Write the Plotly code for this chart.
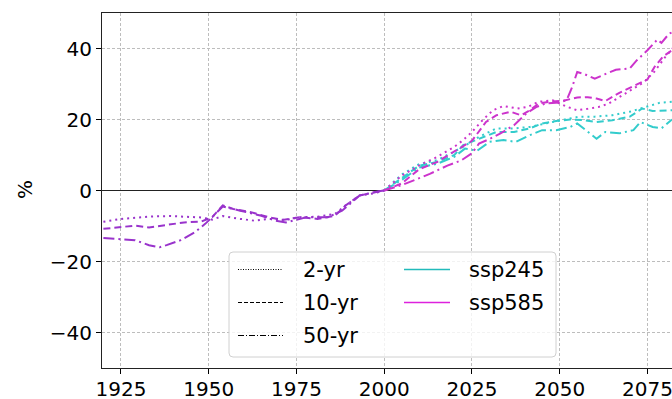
import plotly.graph_objects as go

# Historical - percent change relative to 2000
hist_2yr_x = [1920, 1925, 1930, 1934, 1939, 1944, 1948, 1951, 1954, 1959, 1963, 1967, 1972, 1976, 1981, 1986, 1989, 1993, 1997, 2000]
hist_2yr_y = [-8.8, -8.0, -7.6, -7.3, -7.2, -7.4, -7.6, -8.2, -7.2, -8.0, -8.5, -8.0, -8.3, -7.5, -7.4, -6.6, -4.2, -1.4, -0.8, 0.0]

hist_10yr_x = [1920, 1925, 1929, 1933, 1938, 1943, 1948, 1951, 1954, 1957, 1962, 1967, 1971, 1976, 1981, 1986, 1989, 1993, 1997, 2000]
hist_10yr_y = [-10.8, -10.2, -9.9, -10.4, -9.6, -9.0, -8.7, -7.5, -4.2, -5.2, -6.1, -7.5, -8.3, -7.5, -8.0, -7.1, -4.2, -1.4, -0.6, 0.0]

hist_50yr_x = [1920, 1925, 1929, 1933, 1936, 1938, 1942, 1946, 1949, 1951, 1954, 1959, 1965, 1969, 1972, 1978, 1984, 1988, 1993, 1997, 2000]
hist_50yr_y = [-13.4, -13.7, -14.0, -15.4, -16.0, -15.4, -14.0, -11.8, -9.4, -7.5, -4.5, -5.7, -7.1, -8.5, -9.0, -7.5, -7.5, -5.7, -1.4, -0.5, 0.0]

# ssp245 projections
ssp245_2yr_x = [2000, 2005, 2010, 2015, 2020, 2022.5, 2027, 2032, 2037, 2041.5, 2046, 2051, 2055.5, 2060, 2065, 2070, 2074.5, 2078.5, 2082]
ssp245_2yr_y = [0.0, 4.5, 7.5, 8.5, 11.0, 12.3, 15.1, 17.5, 17.5, 17.9, 18.9, 20.0, 20.8, 20.8, 21.2, 22.2, 23.6, 24.7, 25.0]

ssp245_10yr_x = [2000, 2005, 2010, 2015, 2020, 2022.5, 2027, 2032, 2037, 2041.5, 2045, 2049, 2053, 2057, 2060.5, 2065, 2070, 2073.5, 2076.5, 2080, 2082]
ssp245_10yr_y = [0.0, 3.5, 7.0, 8.0, 10.0, 12.8, 14.6, 16.5, 16.5, 17.5, 18.9, 19.6, 20.0, 19.8, 19.3, 19.8, 20.8, 23.1, 22.4, 22.6, 22.6]

ssp245_50yr_x = [2000, 2005, 2010, 2015, 2020, 2023, 2026.5, 2030, 2034, 2037.5, 2041.5, 2045, 2049, 2053, 2055, 2057.5, 2060.5, 2063, 2067, 2071, 2073, 2076.5, 2079, 2082]
ssp245_50yr_y = [0.0, 3.0, 6.5, 7.5, 9.5, 11.8, 11.2, 13.7, 14.2, 13.7, 15.6, 17.0, 17.0, 17.9, 18.9, 17.0, 14.6, 16.5, 16.1, 17.0, 19.3, 17.9, 17.5, 20.0]

# ssp585 projections
ssp585_2yr_x = [2000, 2005, 2010, 2015, 2020, 2022.5, 2025, 2028, 2031, 2034, 2038, 2041, 2044, 2048, 2052, 2055, 2058, 2061, 2064, 2068, 2071, 2074, 2077, 2080, 2083]
ssp585_2yr_y = [0.0, 4.2, 7.1, 9.4, 12.3, 14.2, 16.5, 19.8, 22.6, 23.8, 23.1, 23.6, 25.0, 25.4, 23.6, 22.6, 23.0, 23.5, 24.5, 26.9, 28.5, 30.5, 33.5, 37.5, 41.0]

ssp585_10yr_x = [2000, 2005, 2010, 2015, 2020, 2025, 2029, 2032, 2036, 2039, 2041.5, 2044, 2047, 2051, 2055, 2058, 2060.5, 2063, 2067, 2070, 2073, 2075, 2077, 2079.5, 2082]
ssp585_10yr_y = [0.0, 2.0, 6.0, 8.0, 11.0, 14.0, 19.3, 21.2, 22.2, 21.2, 22.6, 24.5, 25.0, 25.3, 26.2, 26.3, 25.9, 25.2, 27.5, 29.0, 30.5, 31.3, 34.8, 37.8, 39.5]

ssp585_50yr_x = [2000, 2005, 2010, 2013, 2018, 2022, 2025, 2027, 2030, 2033, 2037, 2040.5, 2043.5, 2046, 2050, 2052, 2053.5, 2055, 2057, 2060, 2063, 2066, 2070, 2072, 2075, 2077.8, 2079, 2081.2, 2083]
ssp585_50yr_y = [0.0, 1.5, 3.5, 4.7, 7.0, 8.5, 10.5, 13.2, 14.5, 16.0, 18.4, 21.7, 23.6, 24.5, 24.8, 25.5, 29.0, 33.4, 32.8, 31.5, 32.8, 34.0, 34.4, 36.7, 39.5, 42.5, 41.6, 44.2, 45.0]

window_labels = ["2-yr", "10-yr", "50-yr"]
scenario_labels = ["ssp245", "ssp585"]
x_ticks = [1925, 1950, 1975, 2000, 2025, 2050, 2075]
y_ticks = [-40, -20, 0, 20, 40]

FONT = "DejaVu Sans"
HIST_COLOR = "#9933cc"
C245 = "#33cccc"
C585 = "#cc33cc"
DASHES = {"2-yr": "2px,4px", "10-yr": "7px,4px", "50-yr": "11px,4px,2px,4px"}
LEGEND_DASHES = {"2-yr": "1px,1.5px", "10-yr": "4px,2px", "50-yr": "6px,2px,1px,2px"}

fig = go.Figure()

series = [
    (ssp245_2yr_x, ssp245_2yr_y, C245, "2-yr"),
    (ssp245_10yr_x, ssp245_10yr_y, C245, "10-yr"),
    (ssp245_50yr_x, ssp245_50yr_y, C245, "50-yr"),
    (ssp585_2yr_x, ssp585_2yr_y, C585, "2-yr"),
    (ssp585_10yr_x, ssp585_10yr_y, C585, "10-yr"),
    (ssp585_50yr_x, ssp585_50yr_y, C585, "50-yr"),
    (hist_2yr_x, hist_2yr_y, HIST_COLOR, "2-yr"),
    (hist_10yr_x, hist_10yr_y, HIST_COLOR, "10-yr"),
    (hist_50yr_x, hist_50yr_y, HIST_COLOR, "50-yr"),
]
for xs, ys, col, win in series:
    fig.add_trace(go.Scatter(
        x=xs, y=ys, mode="lines", showlegend=False, hoverinfo="skip",
        line=dict(color=col, width=2, dash=DASHES[win]),
    ))

# plot area in pixels
L, R, T, B = 102, 672, 13, 368
W, H = R - L, B - T


def px(x):
    return (x - L) / W


def py(y):
    return (B - y) / H


# legend box (drawn by hand to get the two-column matplotlib look)
x0, x1, y0, y1, r = 229, 556, 252, 357, 4
path = (f"M {px(x0 + r)},{py(y0)} L {px(x1 - r)},{py(y0)} "
        f"Q {px(x1)},{py(y0)} {px(x1)},{py(y0 + r)} L {px(x1)},{py(y1 - r)} "
        f"Q {px(x1)},{py(y1)} {px(x1 - r)},{py(y1)} L {px(x0 + r)},{py(y1)} "
        f"Q {px(x0)},{py(y1)} {px(x0)},{py(y1 - r)} L {px(x0)},{py(y0 + r)} "
        f"Q {px(x0)},{py(y0)} {px(x0 + r)},{py(y0)} Z")
shapes = [dict(type="path", xref="paper", yref="paper", path=path,
               fillcolor="rgba(255,255,255,0.8)", line=dict(color="#d0d0d0", width=1),
               layer="above")]
annotations = []
rows = [269.5, 302.5, 335.5]
for i, win in enumerate(window_labels):
    shapes.append(dict(type="line", xref="paper", yref="paper",
                       x0=px(238), x1=px(283), y0=py(rows[i]), y1=py(rows[i]),
                       line=dict(color="black", width=1, dash=LEGEND_DASHES[win]),
                       layer="above"))
    annotations.append(dict(xref="paper", yref="paper", x=px(301), y=py(rows[i]),
                            text=win, showarrow=False, xanchor="left", yanchor="middle",
                            font=dict(family=FONT, size=21, color="black")))
for i, (lab, col) in enumerate(zip(scenario_labels, ["#22bbbb", "#dd22dd"])):
    shapes.append(dict(type="line", xref="paper", yref="paper",
                       x0=px(404), x1=px(450), y0=py(rows[i]), y1=py(rows[i]),
                       line=dict(color=col, width=1.5), layer="above"))
    annotations.append(dict(xref="paper", yref="paper", x=px(467), y=py(rows[i]),
                            text=lab, showarrow=False, xanchor="left", yanchor="middle",
                            font=dict(family=FONT, size=21, color="black")))

annotations.append(dict(xref="paper", yref="paper", x=px(25), y=py(190),
                        text="%", textangle=-90, showarrow=False,
                        xanchor="center", yanchor="middle",
                        font=dict(family=FONT, size=20, color="black")))

fig.update_layout(
    width=672, height=399,
    margin=dict(l=L, r=672 - R, t=T, b=399 - B, pad=0),
    paper_bgcolor="white", plot_bgcolor="white",
    font=dict(family=FONT, size=20, color="black"),
    shapes=shapes, annotations=annotations,
    showlegend=False,
)
fig.update_xaxes(
    range=[1919.6, 2082.0], tickvals=x_ticks, ticks="outside", ticklen=5,
    tickcolor="black", showline=True, linecolor="#222", linewidth=1, mirror=True,
    showgrid=True, gridcolor="#bdbdbd", gridwidth=1, griddash="3px,2px",
    zeroline=False, automargin=False, ticklabeloverflow="allow",
    ticklabelstandoff=-2,
)
fig.update_yaxes(
    range=[-50, 50], tickvals=y_ticks, ticks="outside", ticklen=5,
    tickcolor="black", showline=True, linecolor="#222", linewidth=1, mirror=False,
    showgrid=True, gridcolor="#bdbdbd", gridwidth=1, griddash="3px,2px",
    zeroline=True, zerolinecolor="#222", zerolinewidth=1, automargin=False,
)

# drop the page's default 8px body margin so the figure sits at the window corner
fig.write_html("out.html", config={"displayModeBar": False},
               post_script="document.body.style.margin='0';document.body.style.overflow='hidden';")
